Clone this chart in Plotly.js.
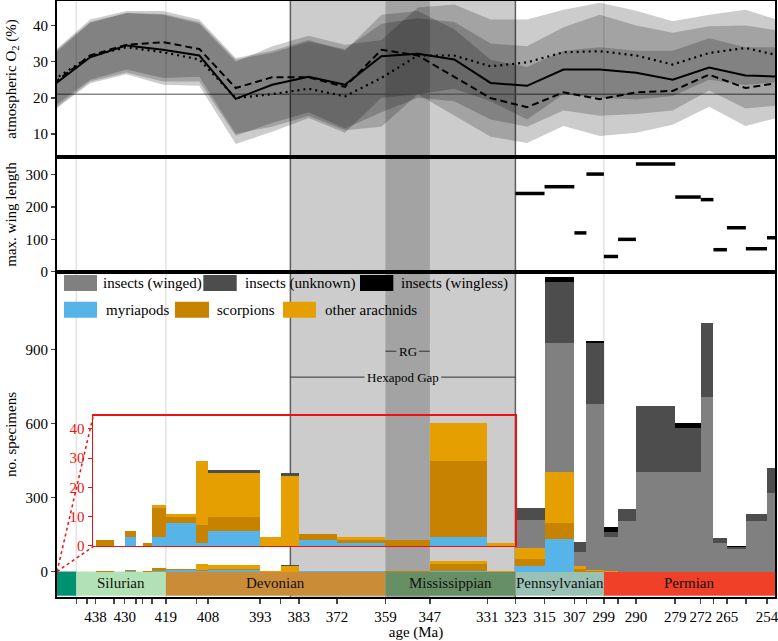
<!DOCTYPE html>
<html><head><meta charset="utf-8">
<script src="https://cdn.plot.ly/plotly-3.0.1.min.js"></script>
<style>html,body{margin:0;padding:0;background:#fff}#chart{width:778px;height:641px}</style>
</head><body><div id="chart"></div>
<script>
// ---------- DATA ----------
// Top panel: atmospheric O2 models
const ageO2 = [450,440,430,420,410,400,390,380,370,360,350,340,330,320,310,300,290,280,270,260,250];
const o2Mean   = [23.5,31.2,34.5,33.3,31.7,19.7,23.6,25.8,23.6,31.5,32.2,30.6,24.1,23.3,27.8,27.8,26.9,25.0,28.4,26.2,25.8];
const o2Dashed = [24.0,31.7,34.7,35.4,33.5,22.7,25.7,25.7,23.0,33.3,31.7,25.9,19.9,17.4,21.5,19.6,21.5,21.9,26.4,22.7,24.3];
const o2Dotted = [25.0,31.5,34.0,32.6,30.6,19.9,21.0,22.5,20.4,25.5,31.7,31.7,28.7,29.8,32.6,32.9,31.7,29.2,32.4,33.8,31.5];
const meanUpper   = [32.0,40.8,43.5,43.2,41.0,30.5,32.5,35.5,33.5,40.5,42.0,41.0,35.0,34.3,39.5,43.0,40.0,38.0,39.8,40.0,38.5];
const meanLower   = [16.8,24.5,27.0,24.5,24.5,9.5,13.0,16.0,11.5,16.0,20.0,19.0,14.0,12.0,16.5,15.0,15.5,16.5,22.0,17.0,18.0];
const dashedUpper = [32.8,41.7,44.0,44.0,41.7,31.0,33.0,36.0,33.0,43.0,44.0,39.0,30.5,28.5,33.0,34.0,33.0,33.0,36.5,34.0,34.0];
const dashedLower = [16.5,24.0,26.5,23.6,23.3,7.2,10.6,14.4,10.3,20.0,21.0,15.0,9.2,7.5,12.2,9.4,10.3,12.5,17.5,12.2,14.7];
const dottedUpper = [32.5,41.0,43.5,43.0,40.5,30.0,34.3,37.2,34.7,36.0,45.0,45.8,41.7,41.7,44.4,46.3,44.1,41.2,43.0,44.4,41.2];
const dottedLower = [17.5,25.0,27.8,25.5,25.8,10.0,12.0,15.0,11.0,12.0,21.0,22.5,19.0,14.0,21.0,20.0,19.5,20.5,25.0,23.5,24.5];
const presentO2 = 21;

// Stage boundaries (Ma) – bars span consecutive boundaries
const boundaries = [443.8,440.8,438.5,433.4,430.5,427.4,425.6,423.0,419.2,410.8,407.6,393.3,387.7,382.7,372.2,358.9,346.7,330.9,323.2,315.2,307.0,303.7,298.9,295.0,290.1,279.3,272.3,268.8,265.1,259.9,254.1,251.9];
const tickLabels = ["","","438","","430","","","","419","","408","393","","383","372","359","347","331","323","315","307","","299","","290","279","272","","265","","254"];

// Middle panel: max. wing length per stage
const wingLength = [null,null,null,null,null,null,null,null,null,null,null,null,null,null,null,null,null,null,242,263,120,302,47,100,333,231,223,68,136,71,105];

// Bottom panel: number of specimens per stage
const myriapods      = [0,0,0,0,3,0,0,3,8,1,5,0,0,2,1,0,3,0,23,132,0,0,0,0,0,0,0,0,0,0,0];
const scorpions      = [0,0,2,0,2,0,1,10,2,6,5,0,0,2,1,2,26,0,30,66,9,3,0,0,0,0,0,0,0,0,0];
const otherArachnids = [0,0,0,0,0,0,0,1,1,22,15,3,24,0,1,0,13,1,41,207,14,5,2,0,0,0,0,0,0,0,0];
const insectsWinged  = [0,0,0,0,0,0,0,0,0,0,0,0,0,0,0,0,0,0,115,520,55,671,139,206,405,405,709,114,90,206,319];
const insectsUnknown = [0,0,0,0,0,0,0,0,0,0,1,0,1,0,0,0,0,0,50,250,43,248,20,47,266,175,299,23,8,26,99];
const insectsWingless= [0,0,0,0,0,0,0,0,0,0,0,0,0,0,0,0,0,0,0,18,0,7,18,0,0,23,0,0,5,0,0];

// Periods
const periodNames  = ["", "Silurian", "Devonian", "Mississippian", "Pennsylvanian", "Permian"];
const periodStart  = [458.4, 443.8, 419.2, 358.9, 323.2, 298.9];
const periodEnd    = [443.8, 419.2, 358.9, 323.2, 298.9, 251.9];
const periodColors = ["#009270", "#B3E1B6", "#CB8C37", "#678F66", "#99C2B5", "#F04028"];

const hexapodGap = [385.0, 323.2];
const romerGap   = [358.9, 346.7];

// ---------- BUILD ----------
const FONT = "'Liberation Serif', 'Times New Roman', 'DejaVu Serif', serif";
const XR = [449.1, 251.9];
const mid = [], wid = [];
for (let i = 0; i < boundaries.length - 1; i++) {
  mid.push((boundaries[i] + boundaries[i+1]) / 2);
  wid.push(boundaries[i] - boundaries[i+1]);
}

const traces = [];
// bands
[[meanUpper, meanLower],[dashedUpper, dashedLower],[dottedUpper, dottedLower]].forEach(([u,l]) => {
  traces.push({x: ageO2, y: u, xaxis:'x', yaxis:'y', mode:'lines', line:{width:0, color:'rgba(0,0,0,0)'}, showlegend:false, hoverinfo:'skip'});
  traces.push({x: ageO2, y: l, xaxis:'x', yaxis:'y', mode:'lines', fill:'tonexty', fillcolor:'rgba(0,0,0,0.2)', line:{width:0, color:'rgba(0,0,0,0)'}, showlegend:false, hoverinfo:'skip'});
});
traces.push({x: ageO2, y: o2Dotted, xaxis:'x', yaxis:'y', mode:'lines', line:{color:'black', width:2.2, dash:'2px,4px'}, showlegend:false});
traces.push({x: ageO2, y: o2Dashed, xaxis:'x', yaxis:'y', mode:'lines', line:{color:'black', width:2, dash:'7px,4px'}, showlegend:false});
traces.push({x: ageO2, y: o2Mean, xaxis:'x', yaxis:'y', mode:'lines', line:{color:'black', width:2}, showlegend:false});

// wing segments
const wx = [], wy = [];
wingLength.forEach((v, i) => { if (v !== null) { wx.push(boundaries[i], boundaries[i+1], null); wy.push(v, v, null); } });
traces.push({x: wx, y: wy, xaxis:'x2', yaxis:'y2', mode:'lines', line:{color:'black', width:3.5}, showlegend:false});

// bars
const groups = [
  ["myriapods", myriapods, "#56B4E9"],
  ["scorpions", scorpions, "#C78200"],
  ["other arachnids", otherArachnids, "#E69F00"],
  ["insects (winged)", insectsWinged, "#808080"],
  ["insects (unknown)", insectsUnknown, "#4D4D4D"],
  ["insects (wingless)", insectsWingless, "#000000"]
];
[['x3','y3'],['x4','y4']].forEach(([xa, ya]) => {
  groups.forEach(([name, vals, col]) => {
    traces.push({type:'bar', name, x: mid, y: vals, width: wid, xaxis: xa, yaxis: ya,
      marker:{color: col, line:{width:0}}, showlegend:false});
  });
});

// ---------- SHAPES / ANNOTATIONS ----------
const shapes = [];
const annotations = [];
shapes.push({type:'rect', xref:'x', yref:'paper', x0: hexapodGap[0], x1: hexapodGap[1], y0:0, y1:1, fillcolor:'#cccccc', line:{width:0}, layer:'below'});
shapes.push({type:'rect', xref:'x', yref:'paper', x0: romerGap[0], x1: romerGap[1], y0:0, y1:1, fillcolor:'#a3a3a3', line:{width:0}, layer:'below'});
[443.8, 419.2, 298.9].forEach(a => shapes.push({type:'line', xref:'x', yref:'paper', x0:a, x1:a, y0:0, y1:1, line:{color:'#e3e3e3', width:1.5}, layer:'below'}));
hexapodGap.forEach(a => shapes.push({type:'line', xref:'x', yref:'paper', x0:a, x1:a, y0:0, y1:1, line:{color:'#5f5f5f', width:1.5}, layer:'below'}));
shapes.push({type:'line', xref:'x domain', yref:'y', x0:0, x1:1, y0:presentO2, y1:presentO2, line:{color:'#888888', width:1.5}, layer:'below'});
periodNames.forEach((n, i) => {
  shapes.push({type:'rect', xref:'x3', yref:'y3', x0: periodStart[i], x1: periodEnd[i], y0:-98, y1:0, fillcolor: periodColors[i], line:{width:0}, layer:'below'});
  if (n) annotations.push({xref:'x3', yref:'y3', x:(Math.min(periodStart[i], XR[0]) + periodEnd[i])/2, y:-48, text:n, showarrow:false, font:{size:15, color:'#111'}});
});
const hgMid = (hexapodGap[0] + hexapodGap[1]) / 2;
const rgMid = (romerGap[0] + romerGap[1]) / 2;
shapes.push({type:'line', xref:'x3', yref:'y3', x0:hexapodGap[0], x1:hgMid+10.5, y0:788, y1:788, line:{color:'#333', width:1}});
shapes.push({type:'line', xref:'x3', yref:'y3', x0:hgMid-10.5, x1:hexapodGap[1], y0:788, y1:788, line:{color:'#333', width:1}});
shapes.push({type:'line', xref:'x3', yref:'y3', x0:romerGap[0], x1:rgMid+3.1, y0:893, y1:893, line:{color:'#333', width:1}});
shapes.push({type:'line', xref:'x3', yref:'y3', x0:rgMid-3.1, x1:romerGap[1], y0:893, y1:893, line:{color:'#333', width:1}});
annotations.push({xref:'x3', yref:'y3', x:hgMid, y:788, text:'Hexapod Gap', showarrow:false, font:{size:13}});
annotations.push({xref:'x3', yref:'y3', x:rgMid, y:893, text:'RG', showarrow:false, font:{size:13}});
shapes.push({type:'line', xref:'x3', yref:'y3', x0:XR[0], y0:0, x1:439.2, y1:628, line:{color:'#ee1111', width:1.5, dash:'dot'}});
shapes.push({type:'line', xref:'x3', yref:'y3', x0:XR[0], y0:0, x1:439.2, y1:101, line:{color:'#ee1111', width:1.5, dash:'dot'}});

// custom legend (swatch x0, x1, text x, row y — paper coords)
const legendItems = [
  ["insects (winged)", "#808080", 0.00975, 0.0557, 0.0613, 0.5268],
  ["insects (unknown)", "#4D4D4D", 0.2038, 0.2503, 0.2595, 0.5268],
  ["insects (wingless)", "#000000", 0.4220, 0.4684, 0.4767, 0.5268],
  ["myriapods", "#56B4E9", 0.00975, 0.0557, 0.0655, 0.482],
  ["scorpions", "#C78200", 0.1643, 0.2117, 0.2201, 0.482],
  ["other arachnids", "#E69F00", 0.3148, 0.3607, 0.3705, 0.482]
];
legendItems.forEach(([t, c, x0, x1, tx, yc]) => {
  shapes.push({type:'rect', xref:'paper', yref:'paper', x0, x1, y0: yc-0.0134, y1: yc+0.0134, fillcolor:c, line:{width:0}, layer:'above'});
  annotations.push({xref:'paper', yref:'paper', x:tx, y:yc, xanchor:'left', yanchor:'middle', text:t, showarrow:false, font:{size:15}});
});

const axBase = {showline:true, mirror:true, linecolor:'black', linewidth:2, showgrid:false, zeroline:false};
const layout = {
  width:778, height:641,
  margin:{l:57, r:3, t:1, b:44},
  paper_bgcolor:'white', plot_bgcolor:'rgba(0,0,0,0)',
  font:{family:FONT, size:15, color:'black'},
  barmode:'stack', hovermode:false, showlegend:false,
  xaxis: Object.assign({}, axBase, {domain:[0,1], anchor:'y', range:XR, ticks:'', showticklabels:false}),
  yaxis: Object.assign({}, axBase, {domain:[0.7383,1], anchor:'x', range:[3.6,46.8], tickvals:[10,20,30,40], ticks:'outside', ticklen:4, tickwidth:1.5,
          title:{text:'atmospheric O<sub>2</sub> (%)', font:{size:15}}}),
  xaxis2: Object.assign({}, axBase, {domain:[0,1], anchor:'y2', range:XR, ticks:'', showticklabels:false}),
  yaxis2: Object.assign({}, axBase, {domain:[0.5453,0.7383], anchor:'x2', range:[-1,355], tickvals:[0,100,200,300], ticks:'outside', ticklen:4, tickwidth:1.5,
          title:{text:'max. wing length', font:{size:15}}}),
  xaxis3: Object.assign({}, axBase, {domain:[0,1], anchor:'y3', range:XR, tickvals: boundaries.slice(0, -1), ticktext: tickLabels, ticks:'outside', ticklen:5, tickwidth:1.5, tickangle:0,
          ticklabeloverflow:'allow', title:{text:'age (Ma)', font:{size:15}}}),
  yaxis3: Object.assign({}, axBase, {domain:[0,0.5453], anchor:'x3', range:[-103,1214], tickvals:[0,300,600,900], ticks:'outside', ticklen:4, tickwidth:1.5,
          title:{text:'no. specimens', font:{size:15}}}),
  xaxis4: {domain:[(XR[0]-439.2)/(XR[0]-XR[1]), (XR[0]-323.2)/(XR[0]-XR[1])], anchor:'y4', range:[439.2, 323.2], showline:true, mirror:true, linecolor:'#ee1111', linewidth:1.5,
          ticks:'', showticklabels:false, showgrid:false, zeroline:false},
  yaxis4: {domain:[0.0856,0.3037], anchor:'x4', range:[0,44.4], tickvals:[0,10,20,30,40], showline:true, mirror:true, linecolor:'#ee1111', linewidth:1.5,
          ticks:'outside', ticklen:4, tickcolor:'#ee1111', tickfont:{color:'#ee1111', size:15}, showgrid:false, zeroline:false},
  shapes, annotations
};
Plotly.newPlot('chart', traces, layout, {staticPlot:true, displayModeBar:false});
</script></body></html>
